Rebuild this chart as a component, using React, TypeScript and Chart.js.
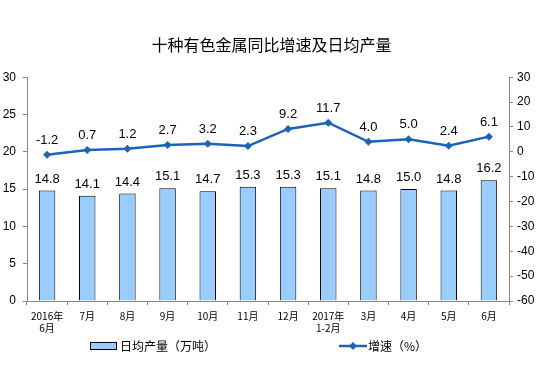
import React, { useEffect, useRef } from "react";
import { Chart, registerables } from "chart.js";

Chart.register(...registerables);

const categories: (string | string[])[] = [
  ["2016年", "6月"], "7月", "8月", "9月", "10月", "11月", "12月",
  ["2017年", "1-2月"], "3月", "4月", "5月", "6月",
];
const dailyOutput = [14.8, 14.1, 14.4, 15.1, 14.7, 15.3, 15.3, 15.1, 14.8, 15.0, 14.8, 16.2];
const growthRate = [-1.2, 0.7, 1.2, 2.7, 3.2, 2.3, 9.2, 11.7, 4.0, 5.0, 2.4, 6.1];
const titleText = "十种有色金属同比增速及日均产量";
const barLabel = "日均产量（万吨）";
const lineLabel = "增速（%）";

const BAR_FILL = "#99CCFF";
const LINE_COLOR = "#1C62B5";
const CJK = "'Noto Sans CJK SC', 'Noto Sans', sans-serif";
const NUM = "'Liberation Sans', Arial, sans-serif";

const labelPlugin = {
  id: "valueLabels",
  afterDatasetsDraw(chart: any) {
    const ctx = chart.ctx;
    ctx.save();
    ctx.fillStyle = "#000";
    ctx.textAlign = "center";
    ctx.textBaseline = "bottom";
    ctx.font = `13px ${NUM}`;
    const barMeta = chart.getDatasetMeta(0);
    barMeta.data.forEach((el: any, i: number) => {
      ctx.fillText(dailyOutput[i].toFixed(1), el.x, el.y - 5);
    });
    const lineMeta = chart.getDatasetMeta(1);
    lineMeta.data.forEach((el: any, i: number) => {
      ctx.fillText(growthRate[i].toFixed(1), el.x, el.y - 8);
    });
    ctx.restore();
  },
  afterDraw(chart: any) {
    const ctx = chart.ctx;
    ctx.save();
    const y = 346;
    // bar legend
    ctx.fillStyle = BAR_FILL;
    ctx.fillRect(90, y - 4, 27, 8);
    ctx.strokeStyle = "#000";
    ctx.lineWidth = 1;
    ctx.strokeRect(90.5, y - 3.5, 26, 7);
    ctx.fillStyle = "#000";
    ctx.font = `12px ${CJK}`;
    ctx.textAlign = "left";
    ctx.textBaseline = "middle";
    ctx.fillText(barLabel, 120, y);
    // line legend
    ctx.strokeStyle = LINE_COLOR;
    ctx.lineWidth = 2.5;
    ctx.beginPath();
    ctx.moveTo(339, y);
    ctx.lineTo(367, y);
    ctx.stroke();
    ctx.fillStyle = LINE_COLOR;
    ctx.beginPath();
    ctx.moveTo(353, y - 4);
    ctx.lineTo(357, y);
    ctx.lineTo(353, y + 4);
    ctx.lineTo(349, y);
    ctx.closePath();
    ctx.fill();
    ctx.fillStyle = "#000";
    ctx.fillText(lineLabel, 368, y);
    ctx.restore();
  },
};

export default function App() {
  const ref = useRef<HTMLCanvasElement>(null);
  useEffect(() => {
    document.body.style.margin = "0";
    const chart = new Chart(ref.current!, {
      type: "bar",
      data: {
        labels: categories as any,
        datasets: [
          {
            type: "bar",
            label: barLabel,
            data: dailyOutput,
            backgroundColor: BAR_FILL,
            borderColor: "#000",
            borderWidth: 1,
            yAxisID: "y",
            categoryPercentage: 1,
            barPercentage: 0.41,
            order: 2,
          },
          {
            type: "line",
            label: lineLabel,
            data: growthRate,
            borderColor: LINE_COLOR,
            backgroundColor: LINE_COLOR,
            borderWidth: 2.5,
            pointStyle: "rectRot",
            pointRadius: 4,
            pointBorderWidth: 0,
            tension: 0,
            yAxisID: "y1",
            order: 1,
          } as any,
        ],
      },
      options: {
        animation: false,
        responsive: false,
        maintainAspectRatio: false,
        layout: { padding: { top: 0, left: 0, right: 0, bottom: 0 } },
        plugins: {
          legend: { display: false },
          tooltip: { enabled: false },
          title: {
            display: true,
            text: titleText,
            color: "#000",
            font: { family: CJK, size: 16, weight: "normal" },
            padding: { top: 35, bottom: 23 },
          },
        },
        scales: {
          x: {
            offset: true,
            grid: {
              offset: true,
              drawOnChartArea: false,
              drawTicks: true,
              tickLength: 4,
              color: "#888",
            },
            border: { color: "#888", width: 1 },
            ticks: {
              color: "#000",
              font: { family: CJK, size: 10 },
              maxRotation: 0,
              autoSkip: false,
              padding: 5,
            },
            afterFit(scale: any) {
              scale.height = 65;
            },
          },
          y: {
            position: "left",
            min: 0,
            max: 30,
            ticks: {
              stepSize: 5,
              color: "#000",
              font: { family: NUM, size: 12 },
              padding: 7,
            },
            grid: {
              drawOnChartArea: false,
              drawTicks: true,
              tickLength: 4,
              color: "#888",
            },
            border: { color: "#888", width: 1 },
            afterFit(scale: any) {
              scale.width = 27;
            },
          },
          y1: {
            position: "right",
            min: -60,
            max: 30,
            ticks: {
              stepSize: 10,
              color: "#000",
              font: { family: NUM, size: 12 },
              padding: 4,
            },
            grid: {
              drawOnChartArea: false,
              drawTicks: true,
              tickLength: 4,
              color: "#888",
            },
            border: { color: "#888", width: 1 },
            afterFit(scale: any) {
              scale.width = 34;
            },
          },
        },
      } as any,
      plugins: [labelPlugin],
    });
    return () => chart.destroy();
  }, []);
  return (
    <div style={{ position: "absolute", left: 0, top: 0, width: 543, height: 366, background: "#fff" }}>
      <canvas ref={ref} width={543} height={366} />
    </div>
  );
}
